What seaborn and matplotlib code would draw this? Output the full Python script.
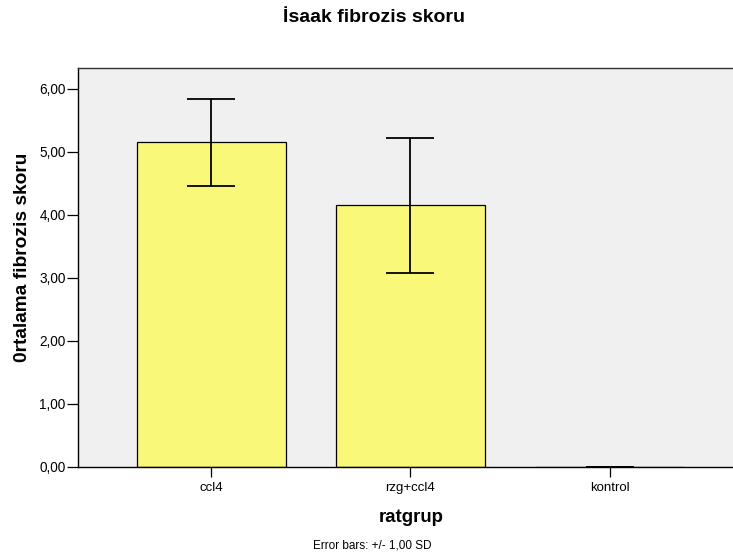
import matplotlib
matplotlib.use("Agg")
import matplotlib.pyplot as plt
import seaborn as sns
import pandas as pd

categories = ["ccl4", "rzg+ccl4", "kontrol"]
means = [5.15, 4.15, 0.0]
sds = [0.69, 1.07, 0.0]
yticks = [0, 1, 2, 3, 4, 5, 6]
ytick_labels = ["0,00", "1,00", "2,00", "3,00", "4,00", "5,00", "6,00"]

sns.set_theme(style="white")
plt.rcParams["font.family"] = ["Liberation Sans", "DejaVu Sans"]
plt.rcParams["text.color"] = "black"

df = pd.DataFrame({"ratgrup": categories, "mean": means, "sd": sds})

fig = plt.figure(figsize=(7.33, 5.56), dpi=100)
ax = fig.add_axes([78/733, (556-466.5)/556, 1 - 78/733, (466.5-68.3)/556])
ax.set_facecolor("#F0F0F0")

sns.barplot(data=df, x="ratgrup", y="mean", order=categories, errorbar=None,
            color="#FAF878", saturation=1, width=0.747,
            edgecolor="black", linewidth=0.9, ax=ax)
ax.errorbar(range(len(categories)), df["mean"], yerr=df["sd"], fmt="none",
            ecolor="black", elinewidth=1.3, capsize=17, capthick=1.3, zorder=5)

ax.set_xlim(-0.667, 2.617)
ax.set_ylim(0, 6.0 * (466.5 - 68.3) / (466.5 - 89))
ax.set_yticks(yticks)
ax.set_yticklabels(ytick_labels)
ax.set_xlabel("")
ax.set_ylabel("")
ax.tick_params(axis="y", direction="out", length=8, width=0.9, pad=1,
               labelsize=9.8, colors="black", left=True)
ax.tick_params(axis="x", direction="out", length=7, width=0.9, pad=4,
               labelsize=9.5, colors="black", bottom=True)
for s in ["left", "bottom"]:
    ax.spines[s].set_color("black")
    ax.spines[s].set_linewidth(1.0)
ax.spines["top"].set_color("#333333")
ax.spines["top"].set_linewidth(1.0)
ax.spines["right"].set_visible(False)

fig.text(374/733, 1 - 17/556, "İsaak fibrozis skoru", ha="center", va="center",
         fontsize=14, fontweight="bold", color="black")
fig.text(23/733, 1 - 257.5/556, "0rtalama fibrozis skoru", ha="center", va="center",
         rotation=90, fontsize=13.8, fontweight="bold", color="black")
fig.text(410.8/733, 1 - 517.5/556, "ratgrup", ha="center", va="center",
         fontsize=13.4, fontweight="bold", color="black")
fig.text(372/733, 1 - 545/556, "Error bars: +/- 1,00 SD", ha="center", va="center",
         fontsize=8.5, color="black")

fig.savefig("out.png", dpi=100)
